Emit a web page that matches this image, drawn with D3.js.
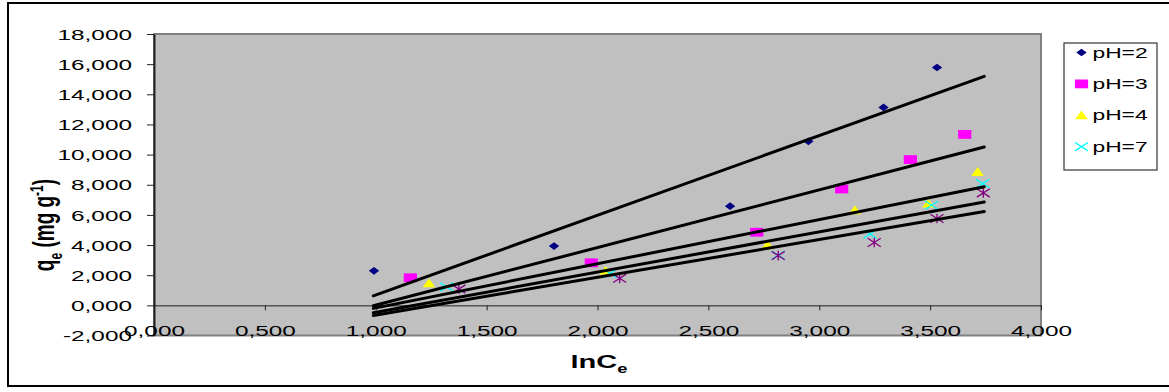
<!DOCTYPE html>
<html>
<head>
<meta charset="utf-8">
<script src="https://cdn.jsdelivr.net/npm/d3@7"></script>
<style>
  html, body { margin: 0; padding: 0; background: #fff; }
  svg { display: block; font-family: "Liberation Sans", Arial, sans-serif; }
</style>
</head>
<body>
<svg id="chart" width="1169" height="392"></svg>
<script>
// ---- data: ln Ce (x) and qe in mg/g (y) for each run ----
const lnCe_pH2 = [0.992, 1.804, 2.598, 2.951, 3.290, 3.531];
const qe_pH2   = [2.29, 3.93, 6.58, 10.88, 13.13, 15.78];
const lnCe_pH3 = [1.156, 1.972, 2.718, 3.101, 3.411, 3.656];
const qe_pH3   = [1.83, 2.82, 4.85, 7.72, 9.67, 11.34];
const lnCe_pH4 = [1.240, 2.036, 2.767, 3.161, 3.492, 3.714];
const qe_pH4   = [1.46, 2.29, 3.99, 6.31, 6.75, 8.85];
const lnCe_pH7 = [1.320, 2.056, 2.815, 3.229, 3.507, 3.737];
const qe_pH7   = [1.21, 2.12, 3.33, 4.72, 6.64, 8.08];
const lnCe_s5  = [1.375, 2.100, 2.815, 3.248, 3.531, 3.740];
const qe_s5    = [1.08, 1.79, 3.30, 4.17, 5.76, 7.46];

// linear trend lines (qe = slope * lnCe + intercept), one per run
const fitSlope     = [5.285, 3.822, 2.930, 2.668, 2.500];
const fitIntercept = [-4.597, -3.810, -3.100, -3.130, -3.140];
const fitRange     = [0.989, 3.744];

const legendLabels = ["pH=2", "pH=3", "pH=4", "pH=7"];
const xTicks = [0, 0.5, 1, 1.5, 2, 2.5, 3, 3.5, 4];
const yTicks = [-2, 0, 2, 4, 6, 8, 10, 12, 14, 16, 18];

// ---- layout ----
const svg = d3.select("#chart");
const plot = { left: 154, right: 1041, top: 34, bottom: 335.5 };
const x = d3.scaleLinear().domain([0, 4]).range([plot.left, plot.right]);
const y = d3.scaleLinear().domain([-2, 18]).range([plot.bottom, plot.top]);

const fmt = d3.formatLocale({ decimal: ",", thousands: ".", grouping: [3], currency: ["", ""], minus: "-" }).format(".3f");

// text in this chart is widened horizontally
const TICK_SX = 1.68, LEG_SX = 1.52, TITLE_SX = 1.53;

// outer chart frame
svg.append("rect")
  .attr("x", 8).attr("y", 3).attr("width", 1180).attr("height", 383)
  .attr("fill", "#fff").attr("stroke", "#000").attr("stroke-width", 2);

// plot area
svg.append("rect")
  .attr("x", plot.left).attr("y", plot.top)
  .attr("width", plot.right - plot.left).attr("height", plot.bottom - plot.top)
  .attr("fill", "#C0C0C0").attr("stroke", "#808080").attr("stroke-width", 2);

// y axis
const yAxis = svg.append("g")
  .attr("transform", `translate(${plot.left},0)`)
  .call(d3.axisLeft(y).tickValues(yTicks).tickSize(7).tickSizeOuter(0).tickFormat(fmt));
yAxis.select(".domain").attr("stroke", "#222").attr("stroke-width", 2);
yAxis.selectAll(".tick line").attr("stroke", "#222").attr("stroke-width", 1);
yAxis.selectAll(".tick text")
  .attr("x", 0).attr("dy", null)
  .attr("transform", `translate(-22,5.2) scale(${TICK_SX},1)`)
  .attr("text-anchor", "end")
  .attr("font-size", 14.5).attr("fill", "#000")
  .style("font-family", "'Liberation Sans', Arial, sans-serif");

// x axis crossing at qe = 0, labels sitting below the plot
const xAxis = svg.append("g")
  .attr("transform", `translate(0,${y(0)})`)
  .call(d3.axisBottom(x).tickValues(xTicks).tickSize(5).tickSizeOuter(0).tickFormat(fmt));
xAxis.select(".domain").attr("stroke", "#222").attr("stroke-width", 1);
xAxis.selectAll(".tick line").attr("stroke", "#222").attr("stroke-width", 1);
xAxis.selectAll(".tick text")
  .attr("y", 0).attr("dy", null)
  .attr("transform", `translate(0,${336 - y(0)}) scale(${TICK_SX},1)`)
  .attr("text-anchor", "middle")
  .attr("font-size", 14.5).attr("fill", "#000")
  .style("font-family", "'Liberation Sans', Arial, sans-serif");

// ---- markers ----
const markerDefs = [
  { kind: "diamond",  color: "#000080" },
  { kind: "square",   color: "#FF00FF" },
  { kind: "triangle", color: "#FFFF00" },
  { kind: "cross",    color: "#00FFFF" },
  { kind: "star",     color: "#800080" }
];

function drawMarker(g, kind, color) {
  if (kind === "diamond") {
    g.append("path").attr("d", "M0,-3.8L5.2,0L0,3.8L-5.2,0Z").attr("fill", color);
  } else if (kind === "square") {
    g.append("rect").attr("x", -6.6).attr("y", -4.4).attr("width", 13.2).attr("height", 8.8).attr("fill", color);
  } else if (kind === "triangle") {
    g.append("path").attr("d", "M0,-4.9L6.3,4L-6.3,4Z").attr("fill", color);
  } else if (kind === "cross") {
    g.append("path").attr("d", "M-6.5,-4.2L6.5,4.2M-6.5,4.2L6.5,-4.2")
      .attr("stroke", color).attr("stroke-width", 1.3).attr("fill", "none");
  } else if (kind === "star") {
    g.append("path").attr("d", "M-6.5,-4.2L6.5,4.2M-6.5,4.2L6.5,-4.2M0,-4.8L0,4.8")
      .attr("stroke", color).attr("stroke-width", 1.3).attr("fill", "none");
  }
}

const series = [
  { xs: lnCe_pH2, ys: qe_pH2 },
  { xs: lnCe_pH3, ys: qe_pH3 },
  { xs: lnCe_pH4, ys: qe_pH4 },
  { xs: lnCe_pH7, ys: qe_pH7 },
  { xs: lnCe_s5,  ys: qe_s5 }
];

series.forEach((s, i) => {
  const pts = s.xs.map((v, j) => [v, s.ys[j]]);
  const g = svg.append("g").attr("class", "series-" + i);
  pts.forEach(p => {
    const m = g.append("g").attr("transform", `translate(${x(p[0])},${y(p[1])})`);
    drawMarker(m, markerDefs[i].kind, markerDefs[i].color);
  });
});

// ---- trend lines, drawn above the markers ----
const line = d3.line().x(d => x(d[0])).y(d => y(d[1]));
fitSlope.forEach((k, i) => {
  const pts = fitRange.map(v => [v, k * v + fitIntercept[i]]);
  svg.append("path")
    .attr("d", line(pts))
    .attr("fill", "none").attr("stroke", "#000").attr("stroke-width", 3)
    .attr("stroke-linecap", "round");
});

// ---- axis titles ----
const xTitle = svg.append("text")
  .attr("transform", `translate(599,368) scale(${TITLE_SX},1)`)
  .attr("text-anchor", "middle")
  .attr("font-size", 19).attr("font-weight", "bold");
xTitle.append("tspan").text("lnC");
xTitle.append("tspan").attr("font-size", 12).attr("dy", 5).text("e");

const yTitle = svg.append("text")
  .attr("transform", `translate(54,225) scale(${TITLE_SX},1) rotate(-90)`)
  .attr("text-anchor", "middle")
  .attr("font-size", 19).attr("font-weight", "bold");
yTitle.append("tspan").text("q");
yTitle.append("tspan").attr("font-size", 12).attr("dy", 5).text("e");
yTitle.append("tspan").attr("dy", -5).text(" (mg g");
yTitle.append("tspan").attr("font-size", 12).attr("dy", -7).text("-1");
yTitle.append("tspan").attr("dy", 7).text(")");

// ---- legend ----
const legend = svg.append("g");
legend.append("rect")
  .attr("x", 1064).attr("y", 43).attr("width", 93).attr("height", 127)
  .attr("fill", "#fff").attr("stroke", "#333").attr("stroke-width", 1.2);
legendLabels.forEach((lab, i) => {
  const cy = 52.5 + i * 31.4;
  const m = legend.append("g").attr("transform", `translate(1081.5,${cy})`);
  drawMarker(m, markerDefs[i].kind, markerDefs[i].color);
  legend.append("text")
    .attr("transform", `translate(1092.5,${cy + 5}) scale(${LEG_SX},1)`)
    .attr("font-size", 15).attr("fill", "#000")
    .text(lab);
});
</script>
</body>
</html>
